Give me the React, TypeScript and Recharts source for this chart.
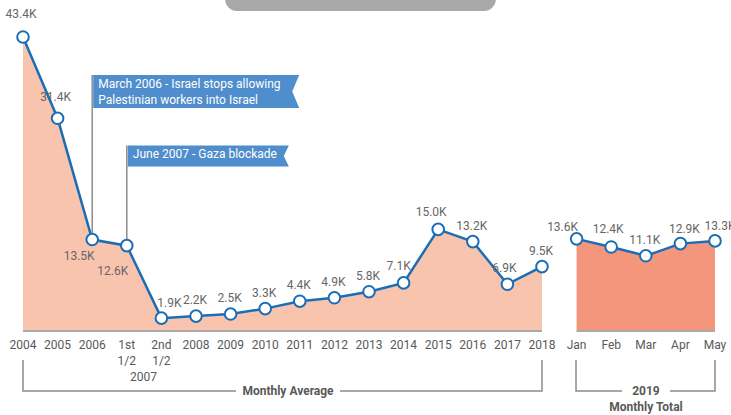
import React from 'react';
import { ComposedChart, Area, XAxis, YAxis, ReferenceLine } from 'recharts';

const categories = ['2004','2005','2006','2007a','2007b','2008','2009','2010','2011','2012','2013','2014','2015','2016','2017','2018','Jan','Feb','Mar','Apr','May'];
const tickLabels = [['2004'],['2005'],['2006'],['1st','1/2'],['2nd','1/2'],['2008'],['2009'],['2010'],['2011'],['2012'],['2013'],['2014'],['2015'],['2016'],['2017'],['2018'],['Jan'],['Feb'],['Mar'],['Apr'],['May']];
const monthlyAverage = [43.4, 31.4, 13.5, 12.6, 1.9, 2.2, 2.5, 3.3, 4.4, 4.9, 5.8, 7.1, 15.0, 13.2, 6.9, 9.5];
const monthlyTotal2019 = [13.6, 12.4, 11.1, 12.9, 13.3];
const callout1 = ['March 2006 - Israel stops allowing', 'Palestinian workers into Israel'];
const callout2 = ['June 2007 - Gaza blockade'];

const data = categories.map((c, i) => ({
  cat: c,
  avg: i < monthlyAverage.length ? monthlyAverage[i] : null,
  total: i >= monthlyAverage.length ? monthlyTotal2019[i - monthlyAverage.length] : null,
}));

const FONT = 'Roboto, sans-serif';
const BLUE = '#1b6db5';
const FLAG = '#4f8dcc';

// label offsets [dx, dy] relative to point
const avgLabelOffsets: Record<number, [number, number]> = {
  0: [-2, -23], 1: [-2, -21], 2: [-13, 16], 3: [-14, 25], 4: [8, -15],
  11: [-5, -17], 12: [-7, -17], 14: [-3, -16],
};
const totalLabelOffsets: Record<number, [number, number]> = {
  16: [-14, -12], 17: [-3, -18], 18: [-1, -16], 19: [4, -15], 20: [5, -15],
};

const fmt = (v: number) => `${v.toFixed(1)}K`;

const makeLabel = (offsets: Record<number, [number, number]>) => (props: any) => {
  const { x, y, value, index } = props;
  if (value == null) return null;
  const [dx, dy] = offsets[index] || [-1, -16];
  return (
    <text x={x + dx} y={y + dy} dy={4} textAnchor="middle" fontSize={12} fill="#666" fontFamily={FONT}>
      {fmt(value)}
    </text>
  );
};

const Dot = (props: any) => {
  const { cx, cy, value } = props;
  if (value == null || cx == null || cy == null) return null;
  return <circle cx={cx} cy={cy} r={5.8} fill="#fff" stroke={BLUE} strokeWidth={2} />;
};

const Tick = (props: any) => {
  const { x, y, payload } = props;
  const lines = tickLabels[payload.index] || [String(payload.value)];
  return (
    <text x={x} y={y} textAnchor="middle" fontSize={12} fill="#595959" fontFamily={FONT}>
      {lines.map((l, i) => (
        <tspan key={i} x={x} dy={i === 0 ? 18 : 16}>{l}</tspan>
      ))}
    </text>
  );
};

const FlagLabel = (props: any) => {
  const { viewBox, lines, w, h, notch } = props;
  if (!viewBox) return null;
  const x = viewBox.x + 1;
  const y = viewBox.y;
  const pts = `${x},${y} ${x + w},${y} ${x + w - notch},${y + h / 2} ${x + w},${y + h} ${x},${y + h}`;
  return (
    <g>
      <polygon points={pts} fill={FLAG} />
      <text x={x + 5} y={y} fontSize={12} fill="#fff" fontFamily={FONT}>
        {lines.map((l: string, i: number) => (
          <tspan key={i} x={x + 5} dy={i === 0 ? 13 : 16}>{l}</tspan>
        ))}
      </text>
    </g>
  );
};

export default function App() {
  return (
    <div style={{ position: 'absolute', left: 0, top: 0, width: 731, height: 415, background: '#fff' }}>
      <ComposedChart width={731} height={415} data={data} margin={{ top: 37, right: 0, left: 0, bottom: 0 }}>
        <XAxis dataKey="cat" scale="point" padding={{ left: 23, right: 16 }} axisLine={false} tickLine={false}
          tickSize={0} tickMargin={0} height={84} interval={0} tick={<Tick />} />
        <YAxis hide domain={[0, 43.4]} />
        <ReferenceLine segment={[{ x: '2004', y: 0 }, { x: '2018', y: 0 }]} stroke="#a9a9a9" strokeWidth={2} />
        <ReferenceLine segment={[{ x: 'Jan', y: 0 }, { x: 'May', y: 0 }]} stroke="#a9a9a9" strokeWidth={2} />
        <ReferenceLine segment={[{ x: '2006', y: 13.5 }, { x: '2006', y: 37.8 }]} stroke="#8c8c8c" strokeWidth={1.5}
          label={<FlagLabel lines={callout1} w={206} h={33} notch={7} />} />
        <ReferenceLine segment={[{ x: '2007a', y: 12.6 }, { x: '2007a', y: 27.4 }]} stroke="#8c8c8c" strokeWidth={1.5}
          label={<FlagLabel lines={callout2} w={161} h={21} notch={5} />} />
        <Area type="linear" dataKey="avg" stroke={BLUE} strokeWidth={2.5} fill="#f9c4ae" fillOpacity={1}
          isAnimationActive={false} connectNulls={false} dot={<Dot />} activeDot={false}
          label={makeLabel(avgLabelOffsets)} />
        <Area type="linear" dataKey="total" stroke={BLUE} strokeWidth={2.5} fill="#f4967b" fillOpacity={1}
          isAnimationActive={false} connectNulls={false} dot={<Dot />} activeDot={false}
          label={makeLabel(totalLabelOffsets)} />
      </ComposedChart>
      <svg width={731} height={415} style={{ position: 'absolute', left: 0, top: 0, pointerEvents: 'none' }}>
        <rect x={225} y={-25} width={271} height={36} rx={12} fill="#a7a8aa" />
        <text x={143.5} y={381} textAnchor="middle" fontSize={12} fill="#595959" fontFamily={FONT}>2007</text>
        <polyline points="23,360 23,391 236,391" fill="none" stroke="#8c8c8c" strokeWidth={1.5} />
        <polyline points="340,391 542,391 542,360" fill="none" stroke="#8c8c8c" strokeWidth={1.5} />
        <text x={288} y={395} textAnchor="middle" fontSize={12} fontWeight="bold" fill="#595959" fontFamily={FONT}>Monthly Average</text>
        <polyline points="576,360 576,391 622,391" fill="none" stroke="#8c8c8c" strokeWidth={1.5} />
        <polyline points="670,391 715,391 715,360" fill="none" stroke="#8c8c8c" strokeWidth={1.5} />
        <text x={646} y={395} textAnchor="middle" fontSize={12} fontWeight="bold" fill="#595959" fontFamily={FONT}>2019</text>
        <text x={646} y={411} textAnchor="middle" fontSize={12} fontWeight="bold" fill="#595959" fontFamily={FONT}>Monthly Total</text>
      </svg>
    </div>
  );
}
